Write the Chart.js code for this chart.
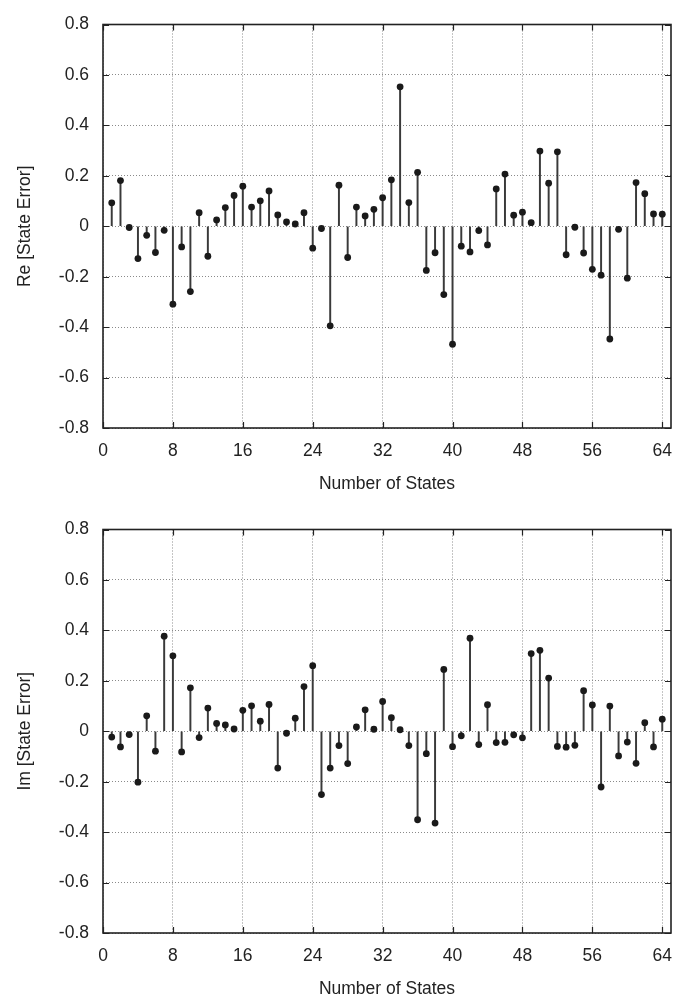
<!DOCTYPE html>
<html>
<head>
<meta charset="utf-8">
<script src="https://cdn.jsdelivr.net/npm/chart.js@4/dist/chart.umd.min.js"></script>
<style>
  html, body { margin: 0; padding: 0; background: #fff; overflow: hidden; }
  .panel { position: absolute; left: 0; width: 689px; height: 500px; }
  #rePanel { top: 0; }
  #imPanel { top: 505px; }
</style>
</head>
<body>
<div class="panel" id="rePanel"><canvas id="reChart" width="689" height="500"></canvas></div>
<div class="panel" id="imPanel"><canvas id="imChart" width="689" height="500"></canvas></div>
<script>
const states = [
  1, 2, 3, 4, 5, 6, 7, 8, 9, 10, 11, 12, 13, 14, 15, 16,
  17, 18, 19, 20, 21, 22, 23, 24, 25, 26, 27, 28, 29, 30, 31, 32,
  33, 34, 35, 36, 37, 38, 39, 40, 41, 42, 43, 44, 45, 46, 47, 48,
  49, 50, 51, 52, 53, 54, 55, 56, 57, 58, 59, 60, 61, 62, 63, 64
];

const reError = [
  0.093, 0.181, -0.005, -0.128, -0.036, -0.104, -0.016, -0.309, -0.082, -0.259,
  0.054, -0.119, 0.025, 0.074, 0.122, 0.159, 0.076, 0.101, 0.140, 0.045,
  0.017, 0.009, 0.054, -0.087, -0.009, -0.395, 0.163, -0.124, 0.076, 0.041,
  0.067, 0.113, 0.184, 0.553, 0.094, 0.214, -0.175, -0.105, -0.271, -0.468,
  -0.079, -0.102, -0.017, -0.074, 0.148, 0.207, 0.044, 0.056, 0.014, 0.298,
  0.171, 0.295, -0.113, -0.004, -0.106, -0.171, -0.194, -0.447, -0.012, -0.206,
  0.173, 0.129, 0.049, 0.048
];

const imError = [
  -0.023, -0.062, -0.013, -0.202, 0.061, -0.079, 0.377, 0.299, -0.082, 0.172,
  -0.025, 0.092, 0.031, 0.025, 0.009, 0.083, 0.101, 0.040, 0.106, -0.146,
  -0.008, 0.052, 0.177, 0.260, -0.251, -0.146, -0.057, -0.128, 0.017, 0.085,
  0.008, 0.118, 0.054, 0.006, -0.057, -0.351, -0.089, -0.364, 0.245, -0.061,
  -0.018, 0.369, -0.053, 0.105, -0.045, -0.044, -0.014, -0.026, 0.308, 0.321,
  0.211, -0.060, -0.063, -0.056, 0.161, 0.104, -0.221, 0.100, -0.098, -0.043,
  -0.127, 0.034, -0.062, 0.048
];

const xTicks = [0, 8, 16, 24, 32, 40, 48, 56, 64];
const yTicks = [-0.8, -0.6, -0.4, -0.2, 0, 0.2, 0.4, 0.6, 0.8];
const yTickLabels = ["-0.8", "-0.6", "-0.4", "-0.2", "0", "0.2", "0.4", "0.6", "0.8"];

const FONT = { family: "'Liberation Sans', Arial, sans-serif", size: 17.5 };
const INK = "#222222";

// frame around the plot area with short inward tick marks on all four sides
const frameTicksPlugin = {
  id: "frameTicks",
  afterDraw(chart) {
    const { ctx, chartArea: a, scales } = chart;
    const len = 6;
    ctx.save();
    ctx.strokeStyle = INK;
    ctx.lineWidth = 1.2;
    ctx.beginPath();
    xTicks.forEach((v) => {
      const x = Math.round(scales.x.getPixelForValue(v)) + 0.5;
      ctx.moveTo(x, a.bottom); ctx.lineTo(x, a.bottom - len);
      ctx.moveTo(x, a.top); ctx.lineTo(x, a.top + len);
    });
    yTicks.forEach((v) => {
      const y = Math.round(scales.y.getPixelForValue(v)) + 0.5;
      ctx.moveTo(a.left, y); ctx.lineTo(a.left + len, y);
      ctx.moveTo(a.right, y); ctx.lineTo(a.right - len, y);
    });
    ctx.stroke();
    ctx.lineWidth = 1.6;
    ctx.strokeRect(a.left, a.top, a.right - a.left, a.bottom - a.top);
    ctx.restore();
  }
};

function stemChart(canvas, values, yTitle) {
  const points = states.map((s, i) => ({ x: s, y: values[i] }));
  return new Chart(canvas, {
    type: "scatter",
    data: {
      datasets: [
        {
          type: "bar",
          data: points,
          backgroundColor: "#3a3a3a",
          borderWidth: 0,
          barThickness: 1.3,
          order: 2
        },
        {
          type: "scatter",
          data: points,
          pointRadius: 3.4,
          pointBackgroundColor: "#1a1a1a",
          pointBorderWidth: 0,
          order: 1
        }
      ]
    },
    options: {
      responsive: false,
      animation: false,
      events: [],
      layout: { padding: { top: 16, right: 18, left: 0, bottom: 0 } },
      plugins: { legend: { display: false }, tooltip: { enabled: false } },
      scales: {
        x: {
          type: "linear",
          min: 0,
          max: 65,
          offset: false,
          afterBuildTicks(scale) { scale.ticks = xTicks.map((v) => ({ value: v })); },
          afterFit(scale) { scale.height = 72; },
          ticks: { font: FONT, color: INK, padding: 13, maxRotation: 0, autoSkip: false },
          grid: { color: "#8a8a8a", lineWidth: 1, drawTicks: false, offset: false },
          border: { display: false, dash: [1, 2] },
          title: { display: true, text: "Number of States", font: FONT, color: INK, padding: { top: 0, bottom: 5.5 } }
        },
        y: {
          min: -0.8,
          max: 0.8,
          afterBuildTicks(scale) { scale.ticks = yTicks.map((v) => ({ value: v })); },
          afterFit(scale) { scale.width = 103; },
          ticks: {
            font: FONT,
            color: INK,
            padding: 14,
            callback(value) {
              const i = yTicks.findIndex((t) => Math.abs(t - value) < 1e-9);
              return i >= 0 ? yTickLabels[i] : "";
            }
          },
          grid: { color: "#8a8a8a", lineWidth: 1, drawTicks: false },
          border: { display: false, dash: [1, 2] },
          title: { display: true, text: yTitle, font: FONT, color: INK, padding: { top: 14.5, bottom: 0 } }
        }
      }
    },
    plugins: [frameTicksPlugin]
  });
}

stemChart(document.getElementById("reChart"), reError, "Re [State Error]");
stemChart(document.getElementById("imChart"), imError, "Im [State Error]");
</script>
</body>
</html>
